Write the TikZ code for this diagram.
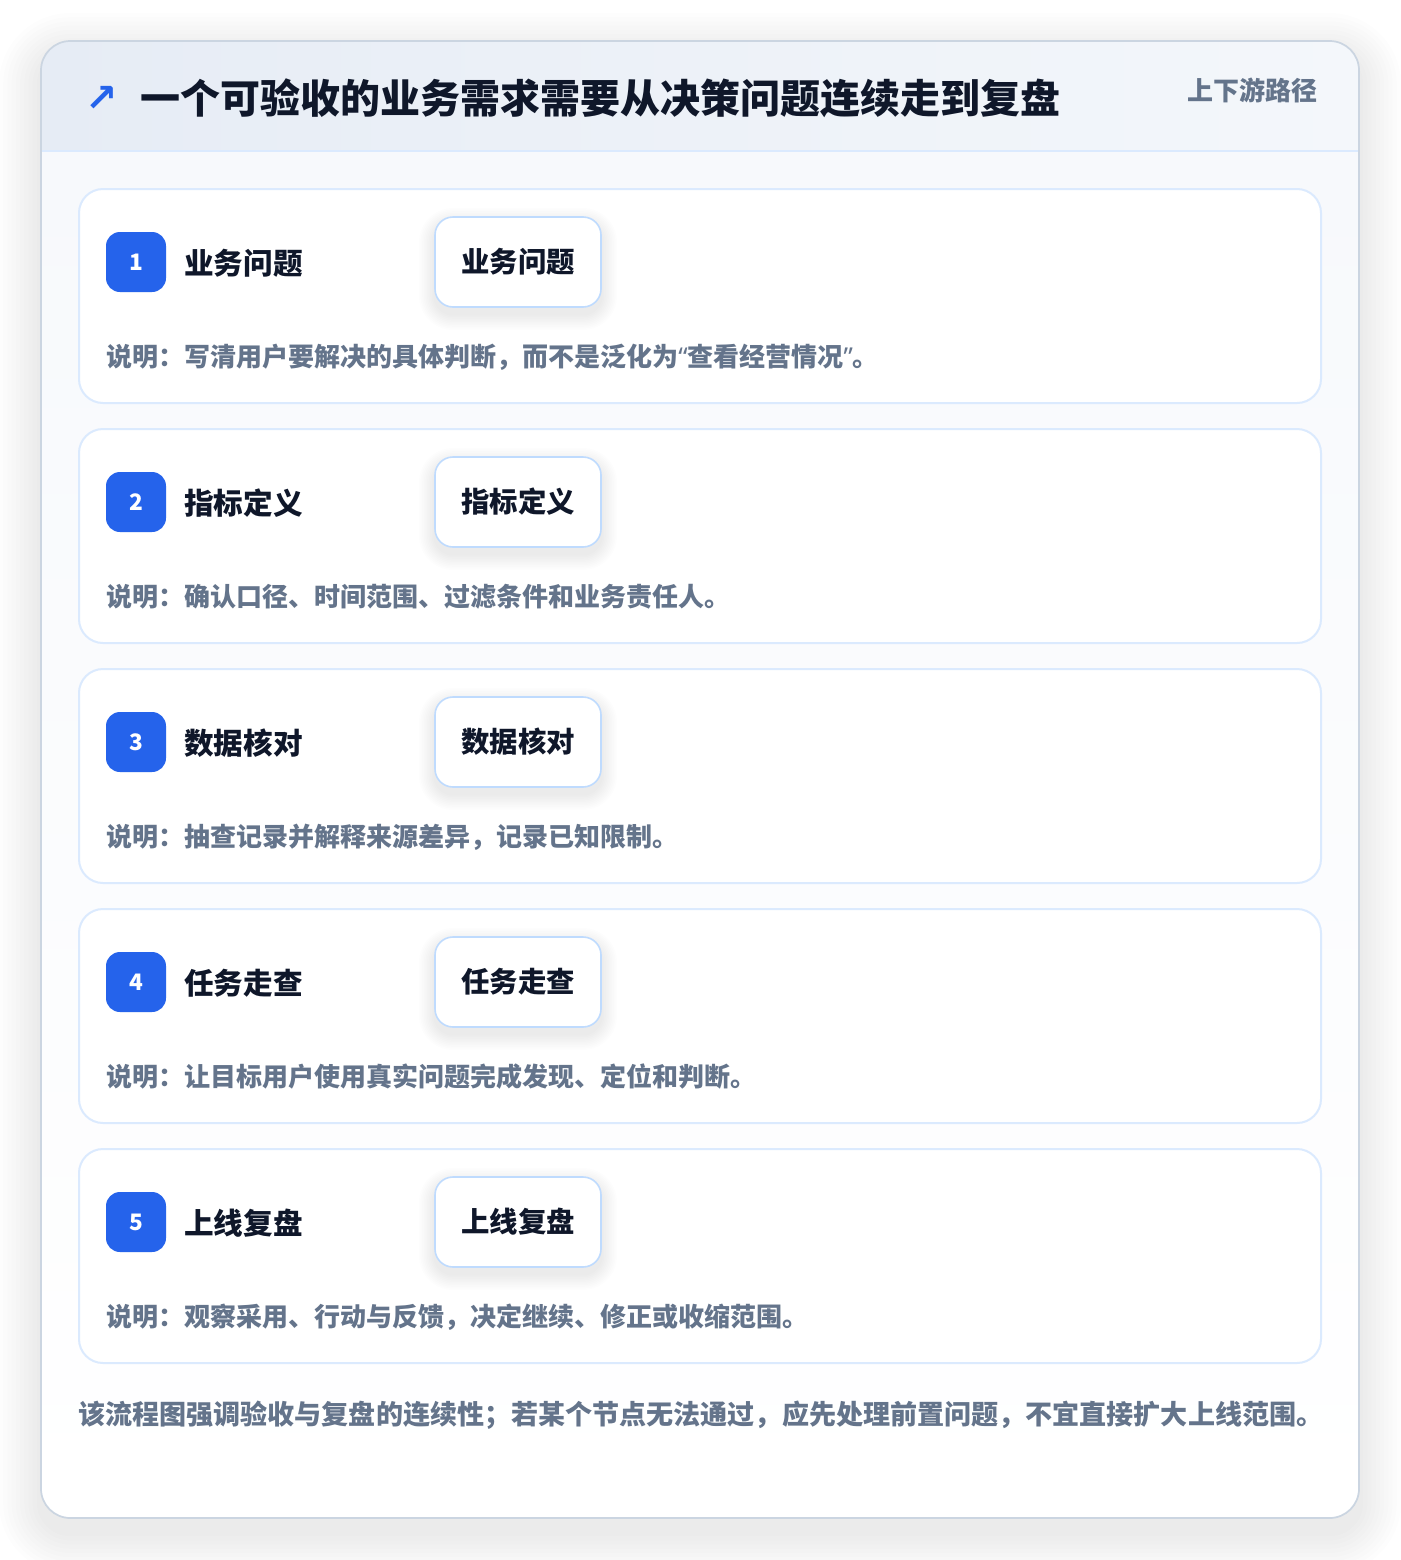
\documentclass[tikz,border=0pt]{standalone}
\usepackage{fontspec}
\newfontfamily\cjk{Noto Sans CJK SC}
\newfontfamily\latinq{Noto Sans}
\newfontfamily\dejavu{DejaVu Sans}
\definecolor{cardborder}{HTML}{CBD5E1}
\definecolor{headA}{HTML}{E6ECF5}
\definecolor{headB}{HTML}{F4F7FB}
\definecolor{headline}{HTML}{DBEAFE}
\definecolor{bodytop}{HTML}{F7F9FC}
\definecolor{secborder}{HTML}{DBEAFE}
\definecolor{boxborder}{HTML}{BFDBFE}
\definecolor{badgeblue}{HTML}{2563EB}
\definecolor{ink}{HTML}{0F172A}
\definecolor{muted}{HTML}{64748B}
\definecolor{shadowc}{HTML}{4B5563}
% soft shadow: x1,y1,x2,y2 (px), corner radius (pt), spread (px), yshift (px), opacity per layer
\newcommand\mysoftshadow[8]{%
  \foreach \s in {1,...,10}{%
    \fill[shadowc, opacity=#8, rounded corners={#5+0.75pt*\s*#6/10}]
      ({#1-\s*#6/10},{#2-\s*#6/10+#7}) rectangle ({#3+\s*#6/10},{#4+\s*#6/10+#7});
  }%
}
\tikzset{
  txt/.style={inner sep=0pt, font=\cjk\bfseries},
  seccard/.style={draw=secborder, line width=1.5pt, fill=white, rounded corners=18pt, minimum width=931.5pt, minimum height=160.5pt, inner sep=0pt},
  badge/.style={fill=badgeblue, rounded corners=10.5pt, minimum width=45pt, minimum height=45pt, inner sep=0pt, text=white, font=\cjk\bfseries\fontsize{17}{19}\selectfont},
  steplabel/.style={txt, text=ink, font=\cjk\bfseries\fontsize{22.2}{26}\selectfont, anchor=west},
  stepbox/.style={draw=boxborder, line width=1.2pt, fill=white, rounded corners=13.5pt, minimum width=124.5pt, minimum height=67.5pt, inner sep=0pt, text=ink, font=\cjk\bfseries\fontsize{21.3}{24}\selectfont},
  desc/.style={txt, text=muted, font=\cjk\bfseries\fontsize{19.5}{22}\selectfont, anchor=west}
}
\newcommand\myLQ{{\latinq\bfseries “}}
\newcommand\myRQ{{\latinq\bfseries ”}}
\begin{document}
\begin{tikzpicture}[x=0.75pt,y=-0.75pt]
\useasboundingbox (0,0) rectangle (1400,1560);
\fill[white] (0,0) rectangle (1400,1560);
% outer card shadow
\mysoftshadow{41}{41}{1359}{1518}{22pt}{42}{14}{0.009}
\fill[white, rounded corners=22pt] (41,41) rectangle (1359,1518);
\begin{scope}
  \clip[rounded corners=22pt] (41,41) rectangle (1359,1518);
  \shade[top color=bodytop, bottom color=white] (41,151) rectangle (1359,1518);
  \shade[left color=headA, right color=headB] (41,41) rectangle (1359,151);
  \draw[headline, line width=1.2pt] (41,151) -- (1359,151);
\end{scope}
\draw[cardborder, line width=1.3pt, rounded corners=22pt] (41,41) rectangle (1359,1518);
% header
\node[inner sep=0pt, text=badgeblue, font=\dejavu\bfseries\fontsize{29}{31}\selectfont] (arrow) at (102,99) {↗};
\node[txt, anchor=west, text=ink, font=\cjk\bfseries\fontsize{30}{34}\selectfont] (title) at (140,98) {一个可验收的业务需求需要从决策问题连续走到复盘};
\node[txt, anchor=east, text=muted, font=\cjk\bfseries\fontsize{19.5}{22}\selectfont] (tag) at (1318,90) {上下游路径};
% sections
\foreach \n/\lab/\dsc [count=\k from 0] in {
  1/业务问题/说明：写清用户要解决的具体判断，而不是泛化为\myLQ 查看经营情况\myRQ 。,
  2/指标定义/说明：确认口径、时间范围、过滤条件和业务责任人。,
  3/数据核对/说明：抽查记录并解释来源差异，记录已知限制。,
  4/任务走查/说明：让目标用户使用真实问题完成发现、定位和判断。,
  5/上线复盘/说明：观察采用、行动与反馈，决定继续、修正或收缩范围。}{
  \node[seccard] (sec\n) at (700,{296+240*\k}) {};
  \mysoftshadow{435}{(217+240*\k)}{601}{(307+240*\k)}{13.5pt}{16}{7}{0.008}
  \node[badge] (badge\n) at (136,{262+240*\k}) {\n};
  \node[steplabel] (label\n) at (184,{263+240*\k}) {\lab};
  \node[stepbox] (box\n) at (518,{262+240*\k}) {\lab};
  \node[desc] (desc\n) at (106,{357+240*\k}) {\dsc};
}
% footer
\node[txt, anchor=west, text=muted, font=\cjk\bfseries\fontsize{20.3}{24}\selectfont] (note) at (78,1415) {该流程图强调验收与复盘的连续性；若某个节点无法通过，应先处理前置问题，不宜直接扩大上线范围。};
\end{tikzpicture}
\end{document}
